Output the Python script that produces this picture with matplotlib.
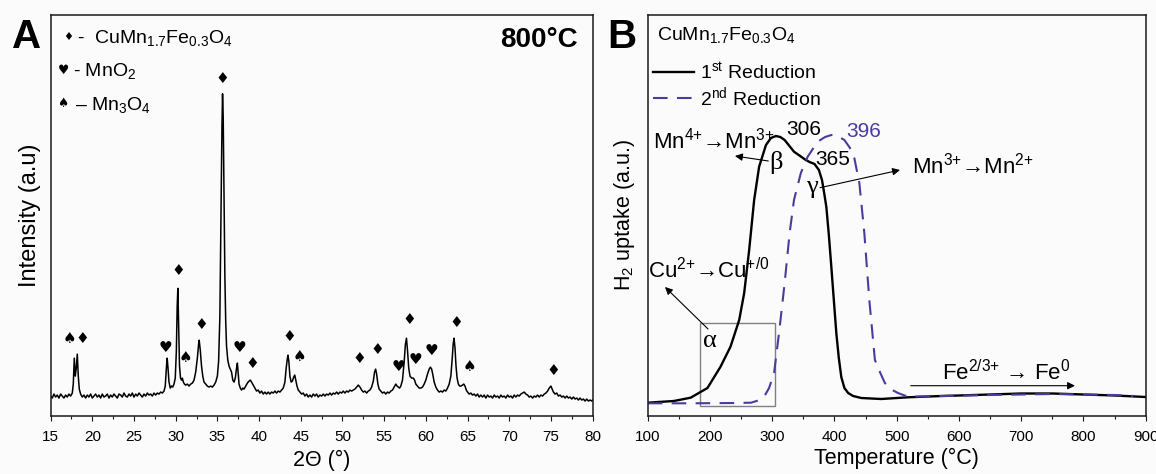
import numpy as np
import matplotlib.pyplot as plt
from matplotlib.patches import Rectangle
from matplotlib.ticker import MultipleLocator

plt.rcParams['font.family'] = ['Liberation Sans', 'DejaVu Sans']
plt.rcParams['mathtext.fontset'] = 'custom'
plt.rcParams['mathtext.rm'] = 'Liberation Sans'
plt.rcParams['mathtext.it'] = 'Liberation Sans:italic'
plt.rcParams['mathtext.bf'] = 'Liberation Sans:bold'

# ---- panel A: XRD pattern (2theta, intensity a.u.)
xrd_points = [
    (15.0, 0), (15.2, -2), (15.4, 2), (15.6, -1), (15.8, 1), (16.0, -2), (16.2, 2), (16.4, 0),
    (16.6, -2), (16.8, 1), (17.0, -1), (17.2, 2), (17.4, 0), (17.6, 3),
    (17.72, 12), (17.84, 38), (17.96, 20), (18.08, 28), (18.2, 42), (18.32, 20), (18.44, 7), (18.6, 2),
    (18.8, -1), (19.0, 1), (19.2, -2), (19.4, 1), (19.6, -1), (19.8, 2), (20.0, -2), (20.2, 0),
    (20.4, 2), (20.6, -1), (20.8, 1), (21.0, -2), (21.2, 2), (21.4, -1), (21.6, 0), (21.8, 2),
    (22.0, -2), (22.2, 1), (22.4, -1), (22.6, 2), (22.8, 0), (23.0, -2), (23.2, 2), (23.4, 1),
    (23.6, -1), (23.8, 3), (24.0, 0), (24.2, -1), (24.4, 2), (24.6, 0), (24.8, 3), (25.0, -1),
    (25.2, 2), (25.4, 0), (25.6, 3), (25.8, 1), (26.0, -1), (26.2, 2), (26.4, 0), (26.6, 3),
    (26.8, 1), (27.0, 2), (27.2, 0), (27.4, 3), (27.6, 1), (27.8, 3), (28.0, 2), (28.2, 4),
    (28.4, 3), (28.6, 5),
    (28.75, 10), (28.9, 30), (28.98, 38), (29.08, 28), (29.2, 14), (29.35, 8), (29.5, 10), (29.65, 9),
    (29.8, 12), (29.95, 18), (30.08, 45), (30.18, 90), (30.26, 108), (30.36, 70), (30.46, 30),
    (30.58, 18), (30.7, 16), (30.8, 18), (30.92, 14), (31.05, 12), (31.2, 11), (31.4, 12),
    (31.6, 10), (31.8, 12), (32.0, 13), (32.2, 16), (32.4, 24), (32.6, 38), (32.75, 52),
    (32.82, 56), (32.95, 46), (33.1, 30), (33.25, 20), (33.4, 14), (33.6, 12), (33.8, 10),
    (34.0, 9), (34.2, 10), (34.4, 9), (34.6, 11), (34.8, 14), (35.0, 20), (35.15, 35), (35.3, 80),
    (35.45, 190), (35.55, 270), (35.62, 303), (35.7, 280), (35.8, 200), (35.9, 120), (36.0, 75),
    (36.1, 50), (36.25, 36), (36.4, 30), (36.55, 27), (36.7, 24), (36.85, 16), (37.0, 14),
    (37.15, 18), (37.3, 28), (37.4, 33), (37.5, 22), (37.6, 12), (37.75, 8), (37.9, 6),
    (38.05, 8), (38.2, 7), (38.4, 10), (38.6, 13), (38.8, 15), (38.95, 16), (39.1, 14),
    (39.3, 11), (39.5, 8), (39.7, 5), (39.9, 6), (40.1, 3), (40.3, 5), (40.5, 2), (40.7, 4),
    (40.9, 2), (41.1, 4), (41.3, 2), (41.5, 4), (41.7, 3), (41.9, 5), (42.1, 3), (42.3, 5),
    (42.5, 4), (42.7, 6), (42.9, 8), (43.1, 14), (43.25, 28), (43.4, 38), (43.47, 41),
    (43.58, 34), (43.7, 20), (43.85, 14), (44.0, 15), (44.15, 19), (44.28, 21), (44.4, 16),
    (44.55, 10), (44.7, 6), (44.9, 4), (45.1, 2), (45.3, 3), (45.5, 0), (45.7, 2), (45.9, -1),
    (46.1, 1), (46.3, -1), (46.5, 2), (46.7, 0), (46.9, 2), (47.1, -1), (47.3, 1), (47.5, 0),
    (47.7, 2), (47.9, 0), (48.1, 2), (48.3, 1), (48.5, 3), (48.7, 1), (48.9, 3), (49.1, 2),
    (49.3, 4), (49.5, 2), (49.7, 4), (49.9, 3), (50.1, 5), (50.3, 3), (50.5, 5), (50.7, 4),
    (50.9, 6), (51.1, 5), (51.3, 6), (51.5, 7), (51.7, 9), (51.9, 11), (52.1, 9), (52.3, 6),
    (52.5, 4), (52.7, 5), (52.9, 3), (53.1, 5), (53.3, 6), (53.5, 9), (53.7, 15), (53.85, 24),
    (53.98, 27), (54.1, 22), (54.25, 12), (54.4, 7), (54.6, 5), (54.8, 3), (55.0, 4), (55.2, 2),
    (55.4, 4), (55.6, 3), (55.8, 5), (56.0, 6), (56.2, 9), (56.4, 12), (56.55, 10), (56.7, 9),
    (56.85, 8), (57.0, 10), (57.2, 16), (57.4, 34), (57.55, 52), (57.68, 58), (57.8, 46),
    (57.95, 28), (58.1, 20), (58.3, 18), (58.5, 18), (58.65, 16), (58.8, 12), (59.0, 10),
    (59.2, 8), (59.4, 8), (59.6, 9), (59.8, 12), (60.0, 16), (60.2, 22), (60.4, 27), (60.55, 29),
    (60.7, 27), (60.85, 21), (61.0, 14), (61.2, 9), (61.4, 6), (61.6, 4), (61.8, 5), (62.0, 4),
    (62.2, 6), (62.4, 5), (62.6, 8), (62.8, 12), (63.0, 20), (63.15, 36), (63.28, 52),
    (63.38, 58), (63.5, 48), (63.62, 30), (63.75, 18), (63.9, 12), (64.05, 10), (64.2, 10),
    (64.4, 11), (64.55, 12), (64.7, 10), (64.85, 6), (65.0, 4), (65.2, 2), (65.4, 3), (65.6, 1),
    (65.8, 2), (66.0, 0), (66.2, 2), (66.4, -1), (66.6, 1), (66.8, -1), (67.0, 1), (67.2, -2),
    (67.4, 1), (67.6, -1), (67.8, 0), (68.0, -2), (68.2, 1), (68.4, -1), (68.6, 0), (68.8, -2),
    (69.0, 1), (69.2, -1), (69.4, 0), (69.6, -2), (69.8, 1), (70.0, -1), (70.2, 0), (70.4, -2),
    (70.6, 1), (70.8, -1), (71.0, 1), (71.2, 0), (71.4, 2), (71.6, 3), (71.8, 4), (72.0, 2),
    (72.2, 1), (72.4, -1), (72.6, 0), (72.8, -2), (73.0, 0), (73.2, -1), (73.4, 1), (73.6, -1),
    (73.8, 1), (74.0, 0), (74.2, 2), (74.4, 3), (74.6, 5), (74.8, 8), (75.0, 10), (75.15, 7),
    (75.3, 4), (75.5, 2), (75.7, 3), (75.9, 0), (76.1, 1), (76.3, -1), (76.5, 0), (76.7, -2),
    (76.9, 0), (77.1, -2), (77.3, -1), (77.5, -3), (77.7, -1), (77.9, -3), (78.1, -2),
    (78.3, -4), (78.5, -2), (78.7, -4), (78.9, -3), (79.1, -5), (79.3, -3), (79.5, -5),
    (79.7, -4), (79.9, -5), (80.0, -4),
]
two_theta = np.array([p[0] for p in xrd_points])
intensity = np.array([p[1] for p in xrd_points])

# phase markers
diamond_x = [18.8, 30.3, 33.1, 35.6, 39.2, 43.6, 52.0, 54.2, 58.0, 63.6, 75.3]
diamond_y = [58, 126, 72, 318, 33, 60, 38, 47, 77, 74, 26]
heart_x = [28.8, 37.6, 56.7, 58.7, 60.7]
heart_y = [49, 49, 30, 37, 46]
spade_x = [17.3, 31.2, 44.9, 65.2]
spade_y = [58, 39, 40, 30]

# ---- panel B: H2-TPR
tpr1_T = [100, 142, 169, 196, 217, 233, 247, 255, 263, 271, 279, 290, 298, 306, 313, 320, 335,
          354, 360, 368, 375, 380, 384, 387, 391, 395, 399, 403, 407, 411, 416, 422, 430, 443,
          475, 518, 572, 600, 650, 700, 750, 800, 850, 900]
tpr1_h2 = [12.3, 14, 17.3, 27, 48.3, 68.3, 95, 122, 165, 215, 248.3, 270, 277, 279, 278, 275,
           263.3, 255, 253, 251, 245, 235, 220, 208, 180, 148, 115, 82, 57, 38, 27, 22, 19, 17,
           16, 17.7, 19, 19.5, 20.5, 21.5, 21.5, 20.5, 19.5, 18]
tpr2_T = [100, 169, 240, 266, 280, 287, 295, 303, 311, 320, 328, 335, 346, 357, 373, 385, 395,
          405, 416, 425, 432, 440, 448, 456, 465, 473, 481, 490, 502, 518, 572, 650, 750, 850, 880]
tpr2_h2 = [11.7, 11.7, 12, 12.3, 15, 18.3, 27, 42, 82, 132, 182, 215, 242, 258.3, 273.3, 278,
           280, 279, 275, 267, 256.7, 232, 182, 115, 55, 43, 32, 26, 22, 18.3, 19, 20, 21, 20, 19]

purple = '#4a3c9e'
bg = '#fbfbfb'

fig = plt.figure(figsize=(11.56, 4.74), dpi=100, facecolor=bg)
axA = fig.add_axes([50.6 / 1156, 1 - 415.5 / 474, 542 / 1156, 400.5 / 474])
axB = fig.add_axes([647.7 / 1156, 1 - 415.5 / 474, 498 / 1156, 400.5 / 474])

for ax in (axA, axB):
    ax.set_facecolor(bg)
    for s in ax.spines.values():
        s.set_linewidth(1.1)
        s.set_color('#1a1a1a')
    ax.set_yticks([])
    ax.tick_params(axis='x', which='major', direction='out', length=3.8, width=0.8,
                   labelsize=11, pad=6.5, color='#1a1a1a')
    ax.tick_params(axis='x', which='minor', direction='out', length=2.4, width=0.8,
                   color='#1a1a1a')

# ---- A
axA.plot(two_theta, intensity, color='black', lw=1.1)
axA.set_xlim(15, 80)
axA.set_ylim(-19.5, 382)
axA.xaxis.set_major_locator(MultipleLocator(5))
axA.xaxis.set_minor_locator(MultipleLocator(2.5))
axA.set_xlabel('2Θ (°)', fontsize=15.5)
axA.set_ylabel('Intensity (a.u)', fontsize=17)
axA.xaxis.set_label_coords(0.5, -0.085)
axA.yaxis.set_label_coords(-0.018, 0.5)

sym_kw = dict(ha='center', va='center', fontsize=11, family='DejaVu Sans', color='black')
for x, y in zip(diamond_x, diamond_y):
    axA.text(x, y, '♦', **sym_kw)
for x, y in zip(heart_x, heart_y):
    axA.text(x, y, '♥', **sym_kw)
for x, y in zip(spade_x, spade_y):
    axA.text(x, y, '♠', **sym_kw)

leg_kw = dict(transform=axA.transAxes, fontsize=14)
axA.text(0.0327, 0.946, '♦', ha='center', va='center', fontsize=8, family='DejaVu Sans',
         transform=axA.transAxes)
axA.text(0.048, 0.929, '-  CuMn$_{1.7}$Fe$_{0.3}$O$_4$', va='baseline', **leg_kw)
axA.text(0.0234, 0.861, '♥', ha='center', va='center', fontsize=9, family='DejaVu Sans',
         transform=axA.transAxes)
axA.text(0.042, 0.848, '- MnO$_2$', va='baseline', **leg_kw)
axA.text(0.0223, 0.778, '♠', ha='center', va='center', fontsize=9, family='DejaVu Sans',
         transform=axA.transAxes)
axA.text(0.045, 0.763, '– Mn$_3$O$_4$', va='baseline', **leg_kw)
axA.text(0.972, 0.9375, '800°C', transform=axA.transAxes, ha='right', va='center',
         fontsize=20, weight='bold')

# ---- B
line1, = axB.plot(tpr1_T, tpr1_h2, color='black', lw=1.7, solid_joinstyle='round')
line2, = axB.plot(tpr2_T, tpr2_h2, color=purple, lw=1.5, linestyle=(0, (7, 4.5)))
axB.set_xlim(100, 900)
axB.set_ylim(-0.5, 400)
axB.xaxis.set_major_locator(MultipleLocator(100))
axB.xaxis.set_minor_locator(MultipleLocator(50))
axB.set_xlabel('Temperature (°C)', fontsize=15.5)
axB.set_ylabel('H$_2$ uptake (a.u.)', fontsize=15.5)
axB.xaxis.set_label_coords(0.5, -0.081)
axB.yaxis.set_label_coords(-0.0215, 0.5)

axB.text(115, 375, 'CuMn$_{1.7}$Fe$_{0.3}$O$_4$', fontsize=14, va='baseline')
axB.legend([line1, line2], ['1$^{\\mathrm{st}}$ Reduction', '2$^{\\mathrm{nd}}$ Reduction'],
           loc='upper left', frameon=False, fontsize=14, handlelength=2.1,
           handletextpad=0.3, labelspacing=0.1, borderaxespad=0, borderpad=0,
           bbox_to_anchor=(0.0106, 0.884))

alpha_box = (184, 9, 120, 83)  # T0, h0, width, height
axB.add_patch(Rectangle(alpha_box[:2], alpha_box[2], alpha_box[3], fill=False,
                        edgecolor='#808080', lw=1.0))

arr = dict(arrowstyle='-|>', color='black', lw=0.8, mutation_scale=11, shrinkA=0, shrinkB=0)
greek = dict(family=['Liberation Serif', 'DejaVu Serif'], fontsize=19, ha='center', va='center')

axB.text(101, 137, 'Cu$^{2{+}}$→Cu$^{{+}/0}$', fontsize=16, va='baseline')
axB.annotate('', xy=(127.8, 128), xytext=(196.9, 86), arrowprops=arr)
axB.text(200.1, 74, 'α', **greek)

axB.text(109, 267, 'Mn$^{4{+}}$→Mn$^{3{+}}$', fontsize=16, va='baseline')
axB.annotate('', xy=(240.2, 259), xytext=(293.7, 254), arrowprops=arr)
axB.text(306.1, 253, 'β', **greek)

axB.text(350.3, 280, '306', fontsize=15, ha='center', va='baseline')
axB.text(446.3, 278, '396', fontsize=15, ha='center', va='baseline', color=purple)
axB.text(397.2, 250, '365', fontsize=15, ha='center', va='baseline')
axB.text(363.5, 228, 'γ', **greek)

axB.annotate('', xy=(505.3, 245), xytext=(376.8, 227.3), arrowprops=arr)
axB.text(524, 241.7, 'Mn$^{3{+}}$→Mn$^{2{+}}$', fontsize=16, va='baseline')

axB.text(572.3, 35, 'Fe$^{2/3{+}}$ → Fe$^0$', fontsize=16, va='baseline')
axB.annotate('', xy=(786.4, 29.3), xytext=(522.5, 29.3), arrowprops=arr)

fig.text(26.5 / 1156, 1 - 36.5 / 474, 'A', fontsize=29, weight='bold', ha='center', va='center')
fig.text(621.5 / 1156, 1 - 36.5 / 474, 'B', fontsize=29, weight='bold', ha='center', va='center')

fig.savefig('out.png', dpi=100, facecolor=bg)
